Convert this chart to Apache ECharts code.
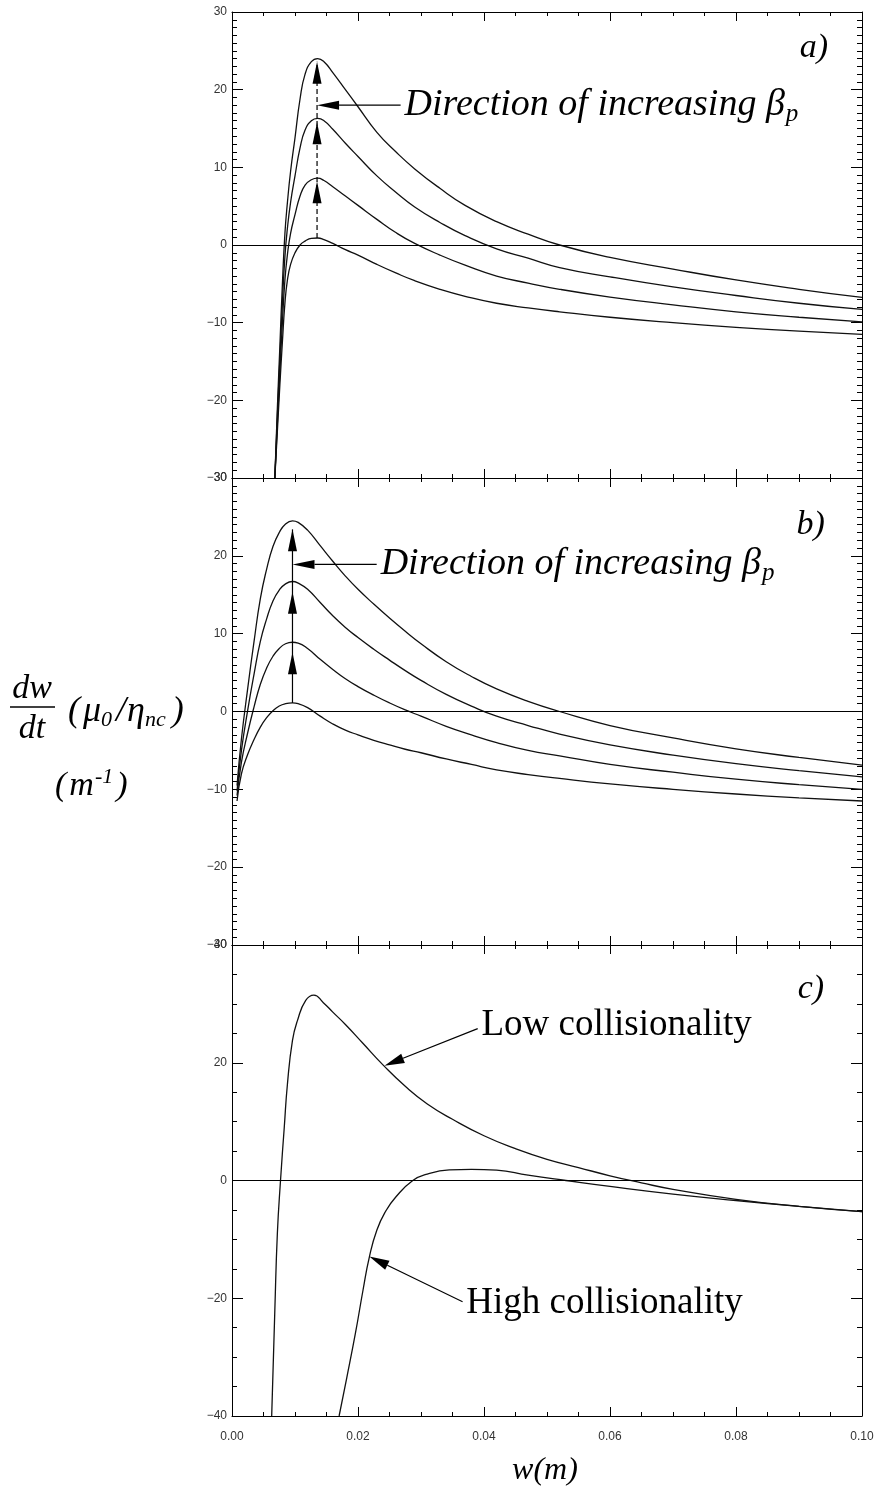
<!DOCTYPE html>
<html><head><meta charset="utf-8">
<script src="https://cdn.jsdelivr.net/npm/echarts@6/dist/echarts.min.js"></script>
<style>html,body{margin:0;padding:0;background:#fff}#c{width:880px;height:1497px}</style>
</head><body><div id="c"></div>
<script>
// ---------- data ----------
// Panel a
const wA = [0.0068,0.0072,0.0076,0.0080,0.0084,0.0088,0.0093,0.0100,0.0108,0.0116,0.0126,0.0136,0.0146,0.0160,0.0180,0.0200,0.0230,0.0260,0.0290,0.0330,0.0370,0.0420,0.0470,0.0520,0.0600,0.0700,0.0800,0.0900,0.1000];
const a1 = [-30,-24,-18,-12.5,-7.5,-4.5,-2.5,-1.0,0,0.5,0.85,0.9,0.7,0.2,-0.6,-1.3,-2.5,-3.6,-4.6,-5.7,-6.6,-7.5,-8.1,-8.6,-9.3,-10.0,-10.6,-11.1,-11.5];
const a2 = [-30,-23,-16.3,-10,-4.5,-1.2,1.5,3.9,6.3,7.7,8.4,8.6,8.3,7.5,6.3,5.1,3.3,1.6,0.2,-1.3,-2.6,-4.0,-4.9,-5.7,-6.7,-7.7,-8.6,-9.3,-9.9];
const a3 = [-30,-22,-14.7,-7.5,-1.5,2.2,5.5,8.9,12.5,14.8,16.0,16.3,16.0,14.9,13.1,11.4,8.9,6.8,4.9,2.9,1.2,-0.5,-1.7,-2.9,-4.1,-5.4,-6.5,-7.5,-8.3];
const a4 = [-30,-21,-13,-5,1.5,5.5,9.5,13.8,18.8,22,23.6,24,23.6,22.2,20,17.8,14.5,12,9.8,7.3,5.1,3.0,1.4,0,-1.6,-3.1,-4.5,-5.7,-6.75];
// Panel b
const wB = [0.0008,0.0015,0.0025,0.0035,0.0045,0.0055,0.0065,0.0075,0.0085,0.0096,0.0105,0.0120,0.0140,0.0160,0.0180,0.0200,0.0225,0.0250,0.0275,0.0300,0.0340,0.0380,0.0420,0.0470,0.0520,0.0600,0.0700,0.0800,0.0900,0.1000];
const b1 = [-11.5,-8,-5.5,-3.6,-2.0,-0.8,0.1,0.7,1.0,1.1,1.0,0.5,-0.6,-1.6,-2.4,-3.0,-3.7,-4.3,-4.85,-5.3,-6.1,-6.8,-7.5,-8.1,-8.6,-9.3,-10.0,-10.6,-11.1,-11.5];
const b2 = [-10.8,-6.5,-2.7,0.6,3.5,5.6,7.1,8.1,8.7,8.9,8.8,8.1,6.7,5.4,4.2,3.2,2.1,1.1,0.2,-0.6,-1.9,-3.0,-4.0,-5.0,-5.7,-6.8,-7.8,-8.7,-9.4,-10.0];
const b3 = [-10.2,-5.0,0.2,4.8,9.0,11.9,14.2,15.6,16.4,16.7,16.5,15.7,14.0,12.3,10.8,9.5,8.0,6.6,5.25,4.0,2.2,0.7,-0.6,-1.8,-2.9,-4.3,-5.6,-6.7,-7.6,-8.4];
const b4 = [-9.5,-3.5,3,9,14.5,18.3,21.2,23,24.1,24.5,24.3,23.3,21.3,19.3,17.4,15.7,13.8,12.0,10.3,8.7,6.4,4.5,2.9,1.3,0,-1.8,-3.4,-4.8,-5.9,-6.9];
// Panel c
const wLow = [0.0063,0.0068,0.0072,0.0077,0.0083,0.0088,0.0096,0.0104,0.0117,0.0130,0.0145,0.0160,0.0180,0.0207,0.0240,0.0275,0.0310,0.0350,0.0400,0.0450,0.0500,0.0550,0.0600,0.0650,0.0700,0.0800,0.0900,0.1000];
const lowColl = [-40,-22,-9,0,9.1,16.4,23.8,27.2,30.6,31.5,30.2,28.6,26.5,23.4,19.6,16.0,13.0,10.4,7.6,5.4,3.6,2.2,0.8,-0.4,-1.5,-3.2,-4.4,-5.3];
const wHigh = [0.0170,0.0182,0.0196,0.0208,0.0218,0.0230,0.0244,0.0260,0.0287,0.0310,0.0345,0.0380,0.0420,0.0470,0.0530,0.0600,0.0700,0.0800,0.0900,0.1000];
const highColl = [-40,-33.6,-25.9,-18.6,-13.0,-8.4,-5.2,-2.8,0,1.1,1.8,1.9,1.75,0.9,0,-1.0,-2.3,-3.4,-4.4,-5.3];

// annotation anchors (data coordinates)
const arrowA = {x:0.0135, base:0.9, tips:[8.2,15.8,23.6], pointer:18.0, textX:0.0274};
const arrowB = {x:0.0096, base:1.1, tips:[7.6,15.4,23.4], pointer:18.9, textX:0.0236};
const lowNote = {tip:[0.0242,19.5], tail:[0.0390,25.8], text:[0.0396,26.3]};
const highNote = {tip:[0.0218,-12.9], tail:[0.0366,-20.6], text:[0.0372,-20.8]};
const panelTags = [['a)',0.0901,25.3],['b)',0.0896,24.0],['c)',0.0898,32.5]];

// ---------- chart ----------
const SERIF = '"Liberation Serif","Times New Roman",serif';
const SANS = '"Liberation Sans",Arial,sans-serif';
function pts(xs, ys){ return xs.map((x,i)=>[x, ys[i]]); }
const grids = [
  {left:232, width:630, top:12, height:466},
  {left:232, width:630, top:478, height:467},
  {left:232, width:630, top:945, height:471}
];
const yRanges = [[-30,30,10,10],[-30,30,10,10],[-40,40,20,4]];
function xAx(g, pos, showLabel){
  return {type:'value', gridIndex:g, position:pos, min:0, max:0.1, interval:0.02,
    axisLine:{show:true, onZero:false, lineStyle:{color:'#000', width:1}},
    axisTick:{show:true, inside:true, length:9, lineStyle:{color:'#000', width:1}},
    minorTick:{show:true, splitNumber:4, length:4, lineStyle:{color:'#000', width:1}},
    splitLine:{show:false},
    axisLabel:{show:showLabel, margin:15, fontSize:12, fontFamily:SANS, color:'#333', formatter:v=>v.toFixed(2)}};
}
function yAx(g, pos, showLabel){
  const r = yRanges[g];
  return {type:'value', gridIndex:g, position:pos, min:r[0], max:r[1], interval:r[2],
    axisLine:{show:true, onZero:false, lineStyle:{color:'#000', width:1}},
    axisTick:{show:true, inside:true, length:11, lineStyle:{color:'#000', width:1}},
    minorTick:{show:true, splitNumber:r[3], length:5, lineStyle:{color:'#000', width:1}},
    splitLine:{show:false},
    axisLabel:{show:showLabel, margin:5, fontSize:12, fontFamily:SANS, color:'#333', formatter:v=>String(v).replace('-','\u2212')}};
}
const xAxes=[], yAxes=[];
for (let g=0; g<3; g++){
  xAxes.push(xAx(g,'bottom', g===2)); xAxes.push(xAx(g,'top', false));
  yAxes.push(yAx(g,'left', true)); yAxes.push(yAx(g,'right', false));
}
function line(xs, ys, g, zero){
  const s = {type:'line', xAxisIndex:2*g, yAxisIndex:2*g, data:pts(xs,ys), showSymbol:false, symbol:'none',
    smooth:0.5, silent:true, lineStyle:{color:'#111', width:1.3}};
  if (zero) s.markLine = {silent:true, symbol:'none', label:{show:false}, lineStyle:{color:'#000', width:1, type:'solid'}, data:[{yAxis:0}]};
  return s;
}
const series = [
  line(wA,a1,0,true), line(wA,a2,0), line(wA,a3,0), line(wA,a4,0),
  line(wB,b1,1,true), line(wB,b2,1), line(wB,b3,1), line(wB,b4,1),
  line(wLow,lowColl,2,true), line(wHigh,highColl,2)
];
const chart = echarts.init(document.getElementById('c'), null, {renderer:'canvas'});
chart.setOption({animation:false, backgroundColor:'#fff', grid:grids, xAxis:xAxes, yAxis:yAxes, series:series});

// ---------- annotations ----------
const mctx = document.createElement('canvas').getContext('2d');
function tw(font, s){ mctx.font = font; return mctx.measureText(s).width; }
function P(si, x, y){ return chart.convertToPixel({seriesIndex:si}, [x, y]); }
const G = [];
function txt(x, y, s, font, align){
  G.push({type:'text', x:x, y:y, silent:true, z:50, style:{text:s, font:font, fill:'#000',
    align:align||'left', verticalAlign:'middle', textAlign:align||'left', textVerticalAlign:'middle'}});
}
function runs(x, y, parts){
  let cx = x;
  parts.forEach(p=>{ txt(cx, y + (p.dy||0), p.t, p.f); cx += tw(p.f, p.t) + (p.gap||0); });
  return cx;
}
function seg(p1, p2, w, dash){
  G.push({type:'line', silent:true, z:50, shape:{x1:p1[0], y1:p1[1], x2:p2[0], y2:p2[1]},
    style:{stroke:'#000', lineWidth:w||1.2, lineDash:dash||null}});
}
function head(tip, from, L, W){
  const dx = tip[0]-from[0], dy = tip[1]-from[1], d = Math.hypot(dx,dy);
  const ux = dx/d, uy = dy/d, nx = -uy, ny = ux;
  const bx = tip[0]-L*ux, by = tip[1]-L*uy;
  G.push({type:'polygon', silent:true, z:51, shape:{points:[[tip[0],tip[1]],[bx+W*nx,by+W*ny],[bx-W*nx,by-W*ny]]}, style:{fill:'#000'}});
  return [bx, by];
}
const fI = 'italic 38px ' + SERIF, fIs = 'italic 25px ' + SERIF;
function betaArrows(si, A, dash){
  const base = P(si, A.x, A.base);
  const top = P(si, A.x, A.tips[A.tips.length-1]);
  seg(base, top, 1.2, dash);
  A.tips.forEach(t=>{ const tp = P(si, A.x, t); head(tp, [tp[0], tp[1]+30], 22, 4.5); });
  const tip = P(si, A.x, A.pointer);
  const tx = P(si, A.textX, A.pointer);
  const b = head(tip, [tip[0]+50, tip[1]], 22, 4.5);
  seg(b, [tx[0]-4, tx[1]], 1.2);
  const end = runs(tx[0], tx[1], [{t:'Direction of increasing \u03b2', f:fI}]);
  txt(end + 1, tx[1]+9, 'p', fIs);
}
betaArrows(0, arrowA, [5,3]);
betaArrows(4, arrowB, null);
function note(si, N, label){
  const tip = P(si, N.tip[0], N.tip[1]), tail = P(si, N.tail[0], N.tail[1]);
  const b = head(tip, tail, 20, 5);
  seg(tail, b, 1.2);
  const t = P(si, N.text[0], N.text[1]);
  txt(t[0], t[1], label, '37px ' + SERIF);
}
note(8, lowNote, 'Low collisionality');
note(8, highNote, 'High collisionality');
panelTags.forEach((p,i)=>{ const q = P([0,4,8][i], p[1], p[2]); txt(q[0], q[1], p[0], 'italic 34px ' + SERIF); });

// y-axis title
const fT = 'italic 34px ' + SERIF, fT2 = 'italic 36px ' + SERIF, fS = 'italic 22px ' + SERIF;
txt(32, 689, 'dw', fT, 'center');
seg([10,707],[55,707], 1.3);
txt(32, 729, 'dt', fT, 'center');
runs(68, 712, [{t:'(', f:fT2, gap:3}, {t:'\u03bc', f:fT2}, {t:'0', f:fS, dy:8, gap:4}, {t:'/', f:fT2, gap:1}, {t:'\u03b7', f:fT2}, {t:'nc', f:fS, dy:8, gap:6}, {t:')', f:fT2}]);
runs(55, 786, [{t:'(', f:fT, gap:3}, {t:'m', f:fT, gap:1}, {t:'-1', f:fS, dy:-9, gap:3}, {t:')', f:fT}]);
// x-axis title
txt(545, 1471, 'w(m)', 'italic 32px ' + SERIF, 'center');

chart.setOption({graphic:{elements:G}});
</script></body></html>
